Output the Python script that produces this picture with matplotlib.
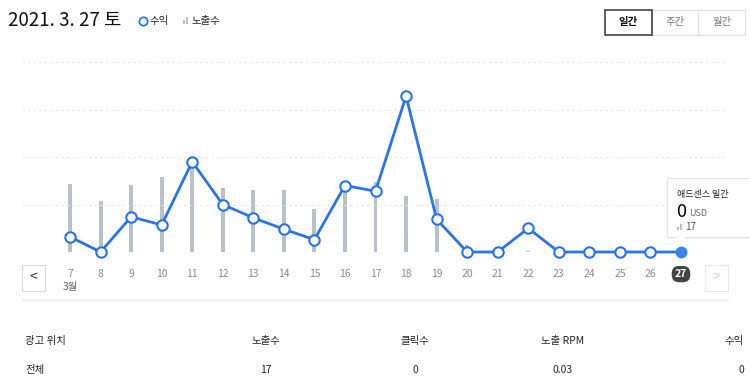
import matplotlib
matplotlib.use("Agg")
import matplotlib.pyplot as plt
from matplotlib.patches import Rectangle, Polygon
from matplotlib.lines import Line2D

plt.rcParams['font.family'] = ['Noto Sans CJK KR', 'DejaVu Sans']

# data
days = list(range(7, 28))
revenue = [0.32, 0.0, 0.74, 0.57, 1.90, 1.00, 0.72, 0.48, 0.26, 1.40, 1.28,
           3.28, 0.69, 0.0, 0.0, 0.50, 0.0, 0.0, 0.0, 0.0, 0.0]
impressions = [227, 171, 222, 250, 279, 214, 206, 208, 143, 212, 232,
               187, 177, 23, 0, 3, 0, 0, 0, 0, 17]
day_labels = [str(d) for d in days]
table_header = ['광고 위치', '노출수', '클릭수', '노출 RPM', '수익']
table_row = ['전체', '17', '0', '0.03', '0']

W, H = 750, 386
fig = plt.figure(figsize=(W / 100, H / 100), dpi=100)


def px(x, y):
    return x / W, 1 - y / H


# chart area in pixels
left, right, top, bottom = 22, 728, 55, 258
ax = fig.add_axes([left / W, 1 - bottom / H, (right - left) / W, (bottom - top) / H])
ax2 = ax.twinx()
ax.set_zorder(2)
ax.patch.set_visible(False)

x0 = 7 - 48 / 30.55
x1 = 7 + 658 / 30.55
unit = 47.5  # px per gridline
ax.set_xlim(x0, x1)
ax.set_ylim(-(bottom - 252) / unit, (252 - top) / unit)
k = unit / 0.3
ax2.set_ylim(ax.get_ylim()[0] * k, ax.get_ylim()[1] * k)

for y in [1, 2, 3, 4]:
    ax.axhline(y, color='#e6e6e6', lw=0.8, ls=(0, (2, 3)), zorder=0)

ax2.bar(days, impressions, width=0.13, color='#b8c0ca', zorder=1)

ax.plot(days, revenue, color='#2a73e8', lw=2.0, zorder=3, clip_on=False)
ax.plot(days[:-1], revenue[:-1], 'o', ms=7.5, mfc='white', mec='#2a73e8',
        mew=1.5, zorder=4, clip_on=False)
ax.plot(days[-1:], revenue[-1:], 'o', ms=7.5, mfc='#3b82f0', mec='#3b82f0',
        zorder=4, clip_on=False)

for a in (ax, ax2):
    for s in a.spines.values():
        s.set_visible(False)
    a.set_yticks([])
ax.set_xticks(days)
ax.set_xticklabels(day_labels, fontsize=7.5, color='#8a8a8a')
ax.tick_params(axis='x', length=0, pad=8)
lab = ax.get_xticklabels()[-1]
lab.set_color('white')
lab.set_fontweight('bold')
lab.set_bbox(dict(boxstyle='round,pad=0.3,rounding_size=0.7', fc='#444444', ec='none'))

fig.text(*px(70, 287), '3월', fontsize=7.5, color='#666666', ha='center', va='center')

# nav buttons
fig.patches.append(Rectangle(px(22, 291), 23 / W, 26 / H, transform=fig.transFigure,
                             fc='white', ec='#d8d8d8', lw=0.8))
fig.text(*px(33.5, 277), '<', fontsize=10, color='#333333', ha='center', va='center')
fig.patches.append(Rectangle(px(705, 291), 23 / W, 26 / H, transform=fig.transFigure,
                             fc='white', ec='#e6e6e6', lw=0.8))
fig.text(*px(716.5, 277), '>', fontsize=10, color='#d5d5d5', ha='center', va='center')

# separator
fig.add_artist(Line2D([22 / W, 728 / W], [1 - 300 / H] * 2, color='#e8e8e8', lw=0.8))

# header
fig.text(*px(8, 20), '2021. 3. 27 토', fontsize=13.5, color='#111111', va='center')
fig.add_artist(Line2D([143 / W], [1 - 21 / H], marker='o', ms=6, mfc='white',
                      mec='#2a73e8', mew=1.3))
fig.text(*px(150, 21), '수익', fontsize=7.5, color='#222222', va='center')
fig.patches.append(Rectangle(px(183, 24), 1.5 / W, 4 / H, transform=fig.transFigure,
                             fc='#b8c0ca', ec='none'))
fig.patches.append(Rectangle(px(186, 24), 1.5 / W, 7 / H, transform=fig.transFigure,
                             fc='#b8c0ca', ec='none'))
fig.text(*px(192, 21), '노출수', fontsize=7.5, color='#222222', va='center')

# period buttons
for i, name in enumerate(['일간', '주간', '월간']):
    xl = 605 + i * 46.7
    sel = i == 0
    fig.patches.append(Rectangle(px(xl, 35), 46.7 / W, 25 / H, transform=fig.transFigure,
                                 fc='white', ec='#333333' if sel else '#dddddd',
                                 lw=1.1 if sel else 0.8, zorder=3 if sel else 2))
    fig.text(*px(xl + 23.3, 22.5), name, fontsize=7.5, ha='center', va='center',
             color='#111111' if sel else '#777777', fontweight='bold' if sel else 'normal',
             zorder=4)

# tooltip
fig.patches.append(Rectangle(px(669, 239), 90 / W, 59 / H, transform=fig.transFigure,
                             fc='#f2f2f2', ec='none', zorder=4))
fig.patches.append(Rectangle(px(667, 237), 90 / W, 59 / H, transform=fig.transFigure,
                             fc='white', ec='#e4e4e4', lw=0.8, zorder=5))
fig.patches.append(Polygon([px(676, 236.5), px(686, 236.5), px(681, 242)],
                           closed=True, transform=fig.transFigure,
                           fc='white', ec='none', zorder=6))
fig.text(*px(677, 194), '애드센스 일간', fontsize=6.5, color='#222222', va='center', zorder=7)
fig.text(*px(676, 212), '0', fontsize=13, color='#000000', va='center', zorder=7)
fig.text(*px(689, 214), 'USD', fontsize=6.5, color='#666666', va='center', zorder=7)
fig.patches.append(Rectangle(px(677, 230), 1.5 / W, 3 / H, transform=fig.transFigure,
                             fc='#b8c0ca', ec='none', zorder=7))
fig.patches.append(Rectangle(px(680, 230), 1.5 / W, 6 / H, transform=fig.transFigure,
                             fc='#b8c0ca', ec='none', zorder=7))
fig.text(*px(685, 227), '17', fontsize=7, color='#555555', va='center', zorder=7)

# summary table
cols = [(25, 'left'), (266, 'center'), (415, 'center'), (563, 'center'), (744, 'right')]
for (cx, ha), h, v in zip(cols, table_header, table_row):
    fig.text(*px(cx, 341), h, fontsize=7.5, color='#222222', ha=ha, va='center')
    fig.text(*px(cx, 370), v, fontsize=7.5, color='#222222', ha=ha, va='center')

fig.savefig('out.png', dpi=100)
